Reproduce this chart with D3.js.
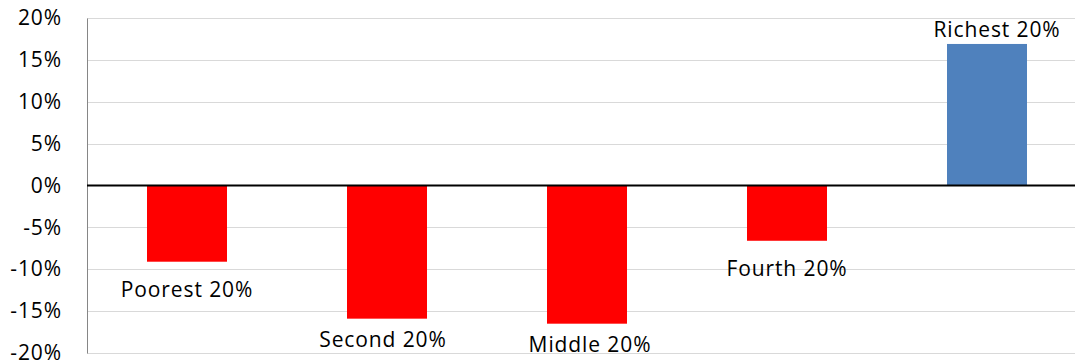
<!DOCTYPE html>
<html>
<head>
<meta charset="utf-8">
<script src="https://cdn.jsdelivr.net/npm/d3@7"></script>
<style>
  body { margin: 0; background: #fff; }
  text { font-family: "Open Sans", sans-serif; letter-spacing: 0.9px; }
</style>
</head>
<body>
<div id="my_dataviz"></div>
<script>
// data
const groups = ["Poorest 20%", "Second 20%", "Middle 20%", "Fourth 20%", "Richest 20%"]
const change = [-9.1, -15.9, -16.5, -6.6, 16.9]
const yTicks = [-20, -15, -10, -5, 0, 5, 10, 15, 20]

// labels were dragged around by hand in the original, so nudge each one (px)
const labelDx = [0, -4, 3, 0, 10]
const labelDy = [35, 28, 28, 35, -7]

const width = 1075
const height = 364

const svg = d3.select("#my_dataviz")
  .append("svg")
    .attr("width", width)
    .attr("height", height)

const x = d3.scaleBand()
  .domain(groups)
  .range([87, 1087])
  .paddingInner(0.6)
  .paddingOuter(0.3)

const y = d3.scaleLinear()
  .domain([-20, 20])
  .range([353, 18])

const crisp = v => Math.round(v) + 0.5

// horizontal gridlines
svg.append("g")
  .selectAll("line")
  .data(yTicks.filter(d => d !== 0))
  .join("line")
    .attr("x1", 87)
    .attr("x2", width)
    .attr("y1", d => crisp(y(d)))
    .attr("y2", d => crisp(y(d)))
    .attr("stroke", "#d9d9d9")
    .attr("stroke-width", 1)

// y axis, labels only, then a plain grey line
const yAxis = d3.axisLeft(y)
  .tickValues(yTicks)
  .tickFormat(d => d + "%")
  .tickSize(0)
  .tickPadding(0)

const gy = svg.append("g")
  .attr("transform", "translate(62,0)")
  .call(yAxis)
gy.select(".domain").remove()
gy.selectAll("text")
  .attr("font-family", "'Open Sans', sans-serif")
  .attr("font-size", 21)
  .attr("fill", "#000")

svg.append("line")
  .attr("x1", 87.5).attr("x2", 87.5)
  .attr("y1", crisp(y(20))).attr("y2", crisp(y(-20)))
  .attr("stroke", "#868686")
  .attr("stroke-width", 1)

// bars
const rows = groups.map((g, i) => ({ group: g, value: change[i], i: i }))

svg.append("g")
  .selectAll("rect")
  .data(rows)
  .join("rect")
    .attr("x", d => x(d.group))
    .attr("width", x.bandwidth())
    .attr("y", d => y(Math.max(0, d.value)))
    .attr("height", d => Math.abs(y(d.value) - y(0)))
    .attr("fill", d => d.value < 0 ? "#ff0000" : "#4f81bd")

// zero line drawn over the bars
svg.append("line")
  .attr("x1", 87)
  .attr("x2", width)
  .attr("y1", y(0))
  .attr("y2", y(0))
  .attr("stroke", "#000")
  .attr("stroke-width", 2)

// data labels
svg.append("g")
  .selectAll("text")
  .data(rows)
  .join("text")
    .attr("x", d => x(d.group) + x.bandwidth() / 2 + labelDx[d.i])
    .attr("y", d => y(d.value) + labelDy[d.i])
    .attr("text-anchor", "middle")
    .attr("font-size", 21)
    .attr("fill", "#000")
    .text(d => d.group)
</script>
</body>
</html>
